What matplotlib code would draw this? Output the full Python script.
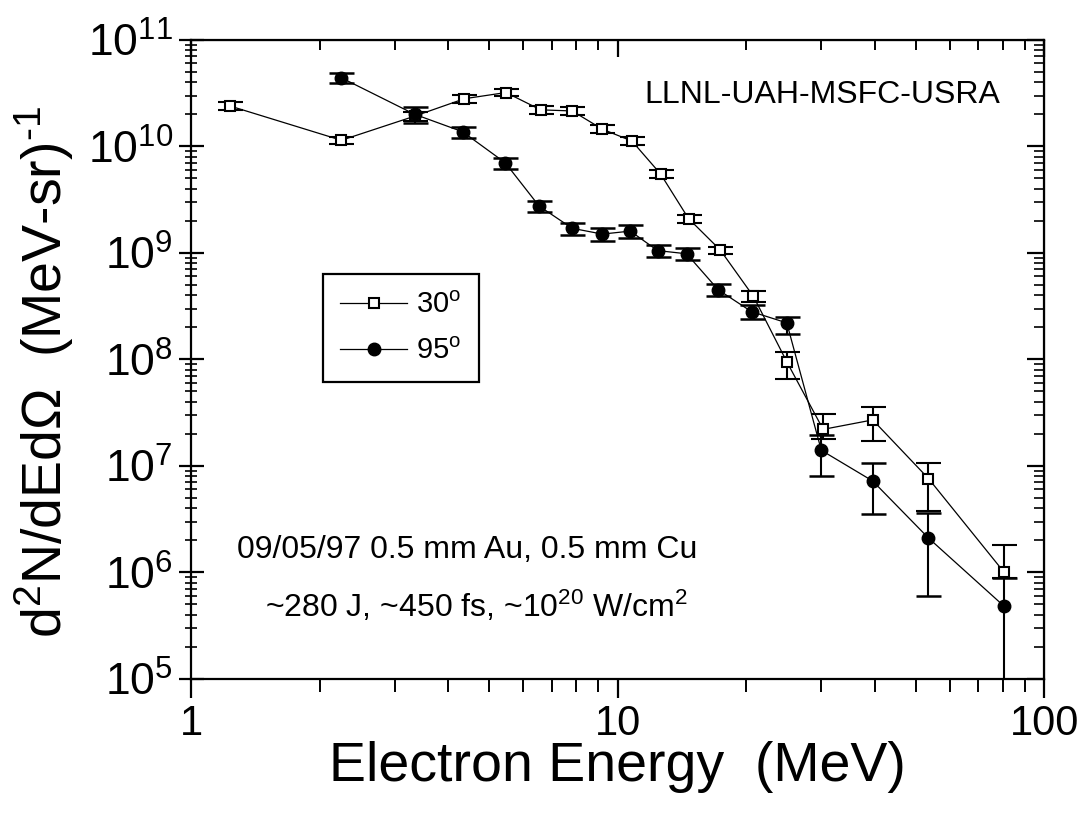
# Electron spectra d2N/dEdOmega vs energy, 30 and 95 degrees (LLNL petawatt shot)
import matplotlib
matplotlib.use("Agg")
import matplotlib.pyplot as plt
from matplotlib.lines import Line2D
from matplotlib.ticker import LogLocator, NullFormatter, FixedLocator, FixedFormatter

plt.rcParams['font.family'] = ['Liberation Sans', 'DejaVu Sans']
plt.rcParams['mathtext.fontset'] = 'custom'
plt.rcParams['mathtext.rm'] = 'Liberation Sans'
plt.rcParams['mathtext.it'] = 'Liberation Sans:italic'
plt.rcParams['mathtext.bf'] = 'Liberation Sans:bold'

# 30 deg (open squares)
e30 = [1.23, 2.25, 3.34, 4.37, 5.47, 6.6, 7.82, 9.2, 10.8, 12.6, 14.65, 17.4,
       20.8, 24.9, 30.3, 39.6, 53.5, 80.5]
n30 = [2.4e10, 1.14e10, 1.92e10, 2.8e10, 3.2e10, 2.2e10, 2.15e10, 1.45e10,
       1.12e10, 5.5e9, 2.1e9, 1.06e9, 3.9e8, 9.5e7, 2.2e7, 2.7e7, 7.6e6, 1.0e6]
lo30 = [1.9e9, 0.9e9, 1.9e9, 2.2e9, 2.5e9, 1.8e9, 1.7e9, 1.3e9, 1.0e9, 5e8,
        1.9e8, 0.85e8, 4.7e7, 2.9e7, 0.4e7, 1.0e7, 3.8e6, 1.2e5]
hi30 = [1.9e9, 0.9e9, 1.9e9, 2.2e9, 2.5e9, 1.8e9, 1.7e9, 1.3e9, 1.0e9, 5e8,
        1.9e8, 0.85e8, 4.7e7, 2.1e7, 0.84e7, 0.9e7, 3.1e6, 8e5]

# 95 deg (filled circles)
e95 = [2.25, 3.34, 4.33, 5.45, 6.54, 7.82, 9.2, 10.7, 12.4, 14.5, 17.2, 20.6,
       24.9, 30.0, 39.6, 53.5, 80.5]
n95 = [4.4e10, 2.0e10, 1.37e10, 7.0e9, 2.75e9, 1.7e9, 1.5e9, 1.6e9, 1.05e9,
       9.8e8, 4.5e8, 2.8e8, 2.2e8, 1.4e7, 7.2e6, 2.1e6, 4.8e5]
lo95 = [4.4e9, 3.6e9, 1.6e9, 8.4e8, 3.3e8, 2.2e8, 2.0e8, 2.1e8, 1.4e8, 1.3e8,
        5.9e7, 4.2e7, 4.8e7, 5.9e6, 3.7e6, 1.5e6, 4.7e5]
hi95 = [4.4e9, 3.6e9, 1.6e9, 8.4e8, 3.3e8, 2.2e8, 2.0e8, 2.1e8, 1.4e8, 1.3e8,
        5.9e7, 4.2e7, 2.9e7, 5.6e6, 3.4e6, 1.5e6, 4.0e5]

xticks = [1, 10, 100]
xticklabels = ['1', '10', '100']

fig = plt.figure(figsize=(10.8, 8.13), dpi=100)
ax = fig.add_axes([0.177, 0.165, 0.790, 0.786])
ax.set_xscale('log')
ax.set_yscale('log')

ax.errorbar(e30, n30, yerr=[lo30, hi30], fmt='-s', color='k', mfc='white',
            mec='k', mew=1.5, ms=7, lw=0.9, elinewidth=1.5, capsize=9,
            capthick=1.8, zorder=3)
ax.errorbar(e95, n95, yerr=[lo95, hi95], fmt='-o', color='k', mfc='k',
            mec='k', ms=9, lw=0.9, elinewidth=1.5, capsize=9,
            capthick=1.8, zorder=4)

ax.set_xlim(1, 100)
ax.set_ylim(1e5, 1e11)

for s in ax.spines.values():
    s.set_linewidth(1.6)

ax.xaxis.set_major_locator(FixedLocator(xticks))
ax.xaxis.set_major_formatter(FixedFormatter(xticklabels))
ax.xaxis.set_minor_locator(LogLocator(base=10, subs=range(2, 10)))
ax.xaxis.set_minor_formatter(NullFormatter())
ax.yaxis.set_major_locator(LogLocator(base=10, numticks=10))
ax.yaxis.set_minor_locator(LogLocator(base=10, subs=range(2, 10), numticks=10))
ax.yaxis.set_minor_formatter(NullFormatter())

ax.tick_params(axis='x', which='major', direction='out', length=14, width=1.6,
               labelsize=30, pad=4)
ax.tick_params(axis='x', which='minor', direction='out', length=9, width=1.4)
ax.tick_params(axis='y', which='major', direction='inout', length=18, width=1.6,
               labelsize=32, pad=4)
ax.tick_params(axis='y', which='minor', direction='inout', length=8, width=1.2)

top = ax.secondary_xaxis('top')
top.xaxis.set_major_locator(FixedLocator(xticks))
top.xaxis.set_minor_locator(LogLocator(base=10, subs=range(2, 10)))
top.xaxis.set_major_formatter(NullFormatter())
top.xaxis.set_minor_formatter(NullFormatter())
top.tick_params(which='major', direction='in', length=12, width=1.6)
top.tick_params(which='minor', direction='in', length=7, width=1.4)

right = ax.secondary_yaxis('right')
right.yaxis.set_major_locator(LogLocator(base=10, numticks=10))
right.yaxis.set_minor_locator(LogLocator(base=10, subs=range(2, 10), numticks=10))
right.yaxis.set_major_formatter(NullFormatter())
right.yaxis.set_minor_formatter(NullFormatter())
right.tick_params(which='major', direction='in', length=12, width=1.6)
right.tick_params(which='minor', direction='in', length=7, width=1.2)

ax.set_xlabel('Electron Energy  (MeV)', fontsize=40, labelpad=-2)
ax.set_ylabel('d$^2$N/dEdΩ  (MeV-sr)$^{\\text{-}1}$', fontsize=40)
ax.yaxis.set_label_coords(-0.135, 0.48)

ax.text(0.74, 0.914, 'LLNL-UAH-MSFC-USRA', transform=ax.transAxes,
        fontsize=23, ha='center', va='center')
ax.text(0.324, 0.202, '09/05/97 0.5 mm Au, 0.5 mm Cu', transform=ax.transAxes,
        fontsize=23, ha='center', va='center')
ax.text(0.334, 0.113, '~280 J, ~450 fs, ~10$^{20}$ W/cm$^2$',
        transform=ax.transAxes, fontsize=23, ha='center', va='center')

handles = [Line2D([], [], color='k', lw=0.9, marker='s', ms=7, mfc='white', mew=1.5),
           Line2D([], [], color='k', lw=0.9, marker='o', ms=9, mfc='k')]
leg = ax.legend(handles, ['30$^{\\rm o}$', '95$^{\\rm o}$'], loc='upper left',
                bbox_to_anchor=(0.154, 0.634), fontsize=21,
                frameon=True, fancybox=False, edgecolor='k', framealpha=1,
                handlelength=2.3, borderpad=0.6, labelspacing=0.6,
                handletextpad=0.3, borderaxespad=0)
leg.get_frame().set_linewidth(1.6)

fig.savefig('out.png', dpi=100)
